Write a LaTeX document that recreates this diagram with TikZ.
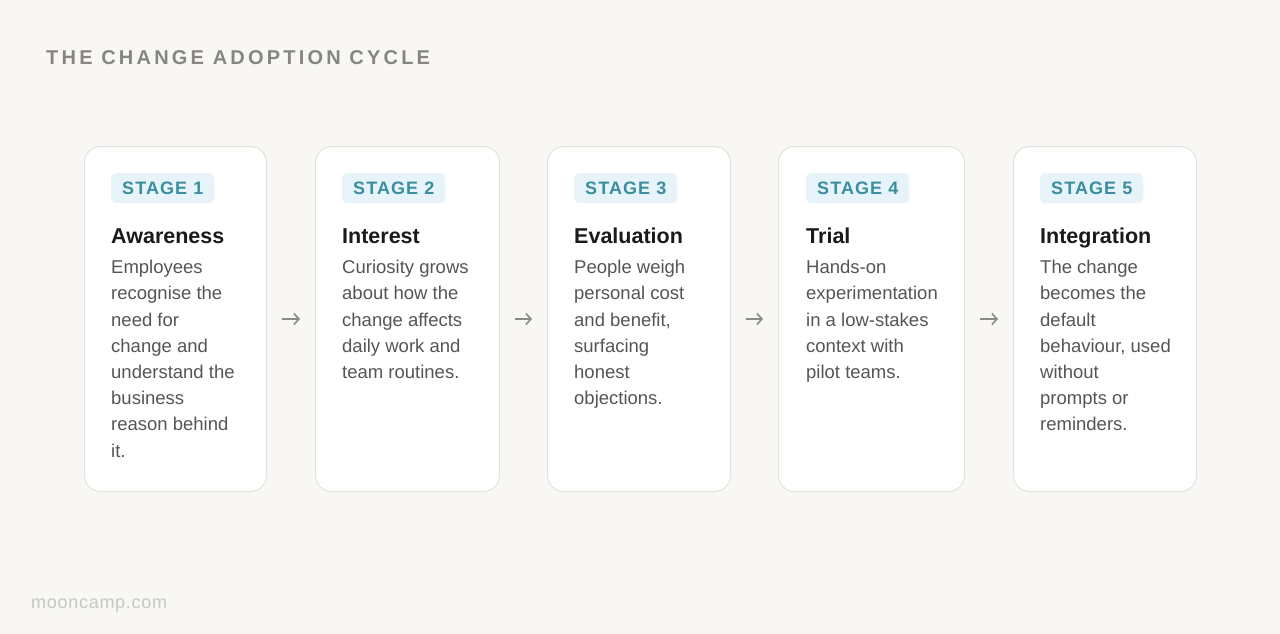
\documentclass[tikz,border=0pt]{standalone}
\usepackage{fontspec}
\setmainfont{Liberation Sans}
\newfontfamily\badgefont[LetterSpace=6]{Liberation Sans}
\newfontfamily\headfont[LetterSpace=16]{Liberation Sans}
\newfontfamily\footfont[LetterSpace=4]{Liberation Sans}
\usetikzlibrary{arrows.meta}
\definecolor{bg}{HTML}{F8F7F4}
\definecolor{cardline}{HTML}{E4E2DD}
\definecolor{badgebg}{HTML}{E6F4F9}
\definecolor{badgetx}{HTML}{3A8E9E}
\definecolor{bodytx}{HTML}{555555}
\definecolor{titletx}{HTML}{1A1A1A}
\definecolor{headtx}{HTML}{86867E}
\definecolor{foottx}{HTML}{C6C6C2}
\definecolor{arrowc}{HTML}{8A8A86}
\tikzset{
  card/.style={draw=cardline, line width=1pt, fill=white, rounded corners=16pt, anchor=north west, inner sep=0pt},
  badge/.style={fill=badgebg, rounded corners=5pt, anchor=north west, minimum height=30pt, inner xsep=11pt, inner ysep=0pt, text=badgetx, font=\badgefont\bfseries\fontsize{18}{20}\selectfont},
  stitle/.style={anchor=base west, inner sep=0pt, text=titletx, font=\bfseries\fontsize{21.5}{24}\selectfont},
  body/.style={anchor=north west, inner sep=0pt, align=left, text=bodytx, font=\fontsize{18.5}{26.2}\selectfont},
  flow/.style={draw=arrowc, line width=1.6pt, -{Straight Barb[length=5pt,width=11pt]}, shorten <=15pt, shorten >=15pt}
}
\begin{document}
\begin{tikzpicture}[x=1pt,y=-1pt]
\fill[bg] (0,0) rectangle (1280,634);
\useasboundingbox (0,0) rectangle (1280,634);
\node[anchor=base west, inner sep=0pt, text=headtx, font=\headfont\bfseries\fontsize{20}{22}\selectfont] (head) at (46,65) {THE CHANGE ADOPTION CYCLE};
\node[anchor=base west, inner sep=0pt, text=foottx, font=\footfont\fontsize{18}{20}\selectfont] (foot) at (31,608) {mooncamp.com};

\node[card, minimum width=182pt, minimum height=345pt] (c1) at (84,146) {};
\node[card, minimum width=184pt, minimum height=345pt] (c2) at (315,146) {};
\node[card, minimum width=183pt, minimum height=345pt] (c3) at (547,146) {};
\node[card, minimum width=186pt, minimum height=345pt] (c4) at (778,146) {};
\node[card, minimum width=183pt, minimum height=345pt] (c5) at (1013,146) {};

\foreach \i/\x in {1/111,2/342,3/574,4/806,5/1040}{
  \node[badge] (b\i) at (\x,173) {STAGE \i};
}
\node[stitle] (t1) at (111,243) {Awareness};
\node[stitle] (t2) at (342,243) {Interest};
\node[stitle] (t3) at (574,243) {Evaluation};
\node[stitle] (t4) at (806,243) {Trial};
\node[stitle] (t5) at (1040,243) {Integration};

\node[body] (d1) at (111,260) {Employees\\recognise the\\need for\\change and\\understand the\\business\\reason behind\\it.};
\node[body] (d2) at (342,260) {Curiosity grows\\about how the\\change affects\\daily work and\\team routines.};
\node[body] (d3) at (574,260) {People weigh\\personal cost\\and benefit,\\surfacing\\honest\\objections.};
\node[body] (d4) at (806,260) {Hands-on\\experimentation\\in a low-stakes\\context with\\pilot teams.};
\node[body] (d5) at (1040,260) {The change\\becomes the\\default\\behaviour, used\\without\\prompts or\\reminders.};

\draw[flow] (c1.east) -- (c2.west);
\draw[flow] (c2.east) -- (c3.west);
\draw[flow] (c3.east) -- (c4.west);
\draw[flow] (c4.east) -- (c5.west);
\end{tikzpicture}
\end{document}
